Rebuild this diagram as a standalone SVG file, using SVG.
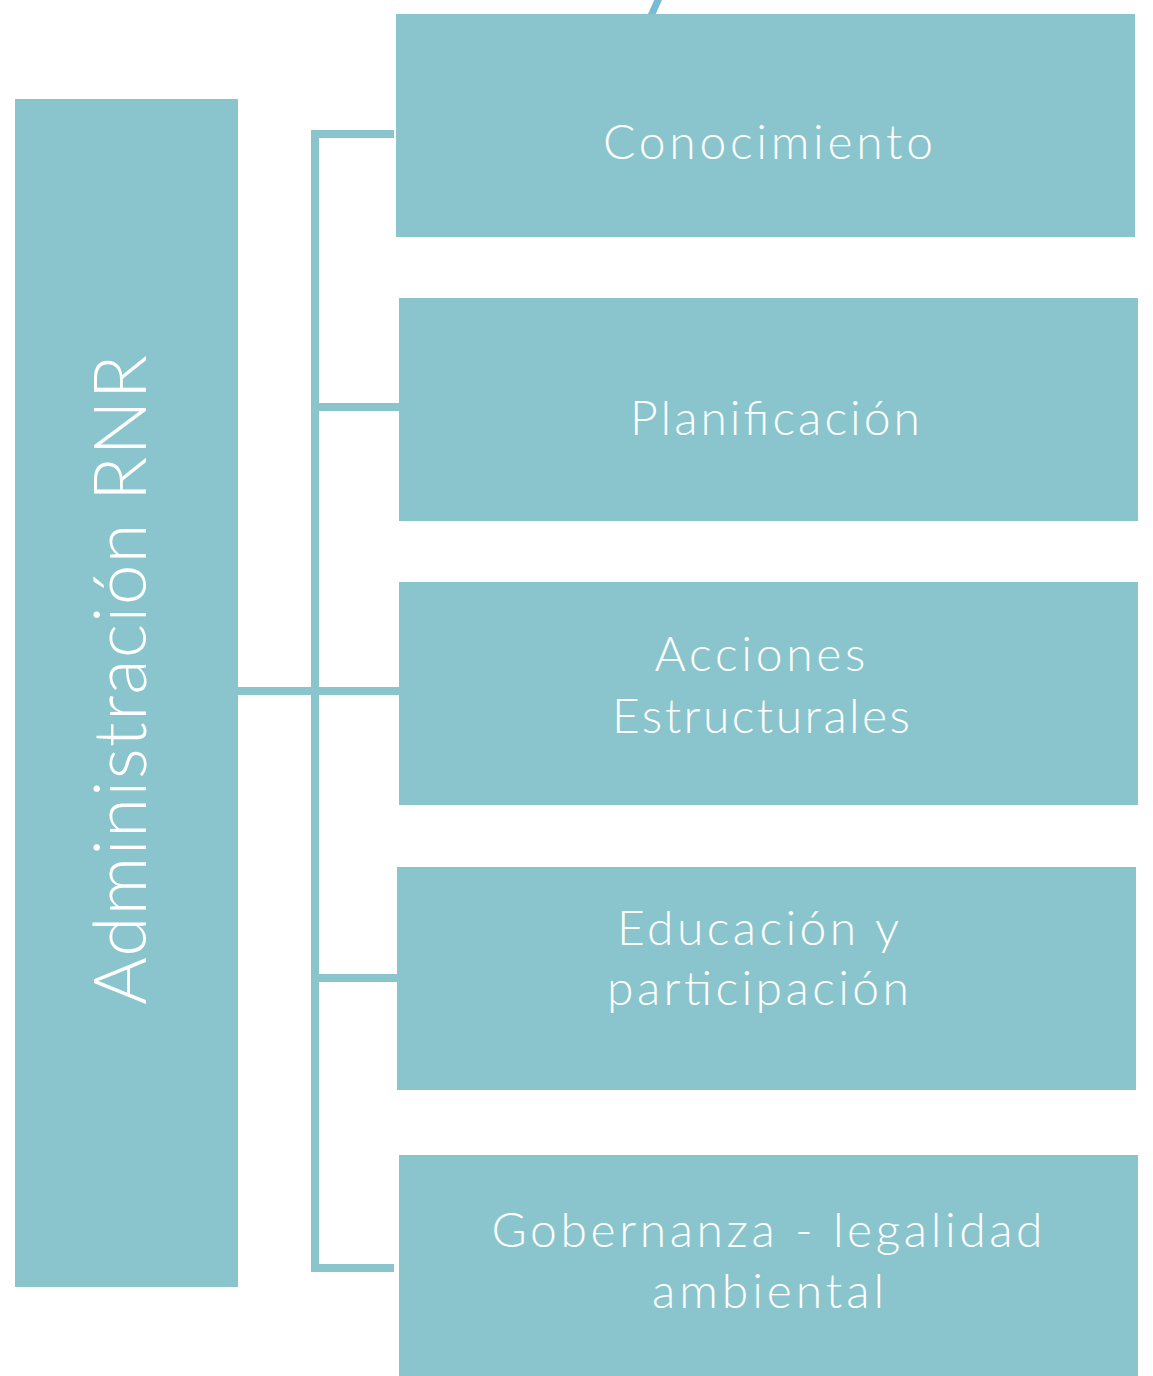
<svg xmlns="http://www.w3.org/2000/svg" width="1153" height="1376" viewBox="0 0 1153 1376">
<style>
.box{fill:#8AC5CD}
.lbl{fill:#FFFFFF;font-family:Lato,"Open Sans","Liberation Sans",sans-serif;font-weight:300;font-size:48px;text-anchor:middle}
.con{fill:none;stroke:#8AC5CD;stroke-width:8}
</style>
<rect width="1153" height="1376" fill="#FFFFFF"/>
<line x1="651" y1="16" x2="659" y2="-2" stroke="#79BBD2" stroke-width="7"/>
<g id="connectors">
<polyline class="con" points="394,134 315,134 315,1268 394,1268"/>
<line class="con" x1="315" y1="407" x2="399" y2="407"/>
<line class="con" x1="238" y1="691" x2="399" y2="691"/>
<line class="con" x1="315" y1="978" x2="397" y2="978"/>
</g>
<g id="admin">
<rect class="box" x="15" y="99" width="223" height="1188"/>
<text class="lbl" style="font-size:73px" transform="translate(146,680) rotate(-90)" x="0" y="0" textLength="650" lengthAdjust="spacing">Administración RNR</text>
</g>
<g id="conocimiento">
<rect class="box" x="396" y="14" width="739" height="223"/>
<text class="lbl" x="768" y="159" textLength="330" lengthAdjust="spacing">Conocimiento</text>
</g>
<g id="planificacion">
<rect class="box" x="399" y="298" width="739" height="223"/>
<text class="lbl" x="775" y="435" textLength="290" lengthAdjust="spacing">Planificación</text>
</g>
<g id="acciones">
<rect class="box" x="399" y="582" width="739" height="223"/>
<text class="lbl" x="760" y="671" textLength="211" lengthAdjust="spacing">Acciones</text>
<text class="lbl" x="761" y="733" textLength="298" lengthAdjust="spacing">Estructurales</text>
</g>
<g id="educacion">
<rect class="box" x="397" y="867" width="739" height="223"/>
<text class="lbl" x="758" y="945" textLength="282" lengthAdjust="spacing">Educación y</text>
<text class="lbl" x="758" y="1005" textLength="302" lengthAdjust="spacing">participación</text>
</g>
<g id="gobernanza">
<rect class="box" x="399" y="1155" width="739" height="221"/>
<text class="lbl" x="767" y="1247" textLength="551" lengthAdjust="spacing">Gobernanza - legalidad</text>
<text class="lbl" x="768" y="1308" textLength="232" lengthAdjust="spacing">ambiental</text>
</g>
</svg>
